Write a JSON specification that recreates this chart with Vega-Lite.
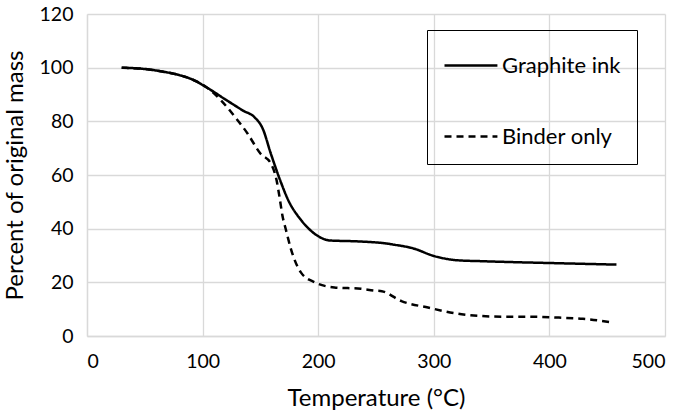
{
  "$schema": "https://vega.github.io/schema/vega-lite/v6.json",
  "autosize": {"type": "none"},
  "width": 578,
  "height": 322,
  "padding": {"left": 87, "top": 14, "right": 20, "bottom": 81},
  "background": "white",
  "config": {
    "font": "Lato",
    "view": {"stroke": null},
    "axis": {
      "gridColor": "#d9d9d9",
      "gridWidth": 1.3,
      "domainColor": "#d9d9d9",
      "domainWidth": 1.3,
      "ticks": false,
      "labelFont": "Lato",
      "labelFontSize": 19.5,
      "labelColor": "#000000",
      "titleFont": "Lato",
      "titleFontSize": 24,
      "titleFontWeight": "normal",
      "titleColor": "#000000"
    }
  },
  "data": {
    "values": [
      {"T": 30, "m": 100, "series": "Graphite ink"},
      {"T": 50, "m": 99.5, "series": "Graphite ink"},
      {"T": 66, "m": 98.5, "series": "Graphite ink"},
      {"T": 80, "m": 97.2, "series": "Graphite ink"},
      {"T": 90, "m": 95.8, "series": "Graphite ink"},
      {"T": 104, "m": 92.5, "series": "Graphite ink"},
      {"T": 121, "m": 87.8, "series": "Graphite ink"},
      {"T": 135, "m": 84, "series": "Graphite ink"},
      {"T": 145, "m": 81.5, "series": "Graphite ink"},
      {"T": 152, "m": 77.3, "series": "Graphite ink"},
      {"T": 159, "m": 68, "series": "Graphite ink"},
      {"T": 168, "m": 57, "series": "Graphite ink"},
      {"T": 174, "m": 50.7, "series": "Graphite ink"},
      {"T": 185, "m": 43.3, "series": "Graphite ink"},
      {"T": 193, "m": 39.5, "series": "Graphite ink"},
      {"T": 200, "m": 37.2, "series": "Graphite ink"},
      {"T": 210, "m": 35.6, "series": "Graphite ink"},
      {"T": 232, "m": 35.3, "series": "Graphite ink"},
      {"T": 249, "m": 34.9, "series": "Graphite ink"},
      {"T": 255, "m": 34.7, "series": "Graphite ink"},
      {"T": 266, "m": 34, "series": "Graphite ink"},
      {"T": 281, "m": 32.8, "series": "Graphite ink"},
      {"T": 301, "m": 29.7, "series": "Graphite ink"},
      {"T": 321, "m": 28.2, "series": "Graphite ink"},
      {"T": 340, "m": 27.9, "series": "Graphite ink"},
      {"T": 371, "m": 27.5, "series": "Graphite ink"},
      {"T": 400, "m": 27.2, "series": "Graphite ink"},
      {"T": 429, "m": 26.9, "series": "Graphite ink"},
      {"T": 458, "m": 26.6, "series": "Graphite ink"},
      {"T": 30, "m": 100, "series": "Binder only"},
      {"T": 50, "m": 99.5, "series": "Binder only"},
      {"T": 66, "m": 98.5, "series": "Binder only"},
      {"T": 80, "m": 97.2, "series": "Binder only"},
      {"T": 90, "m": 95.8, "series": "Binder only"},
      {"T": 104, "m": 92.5, "series": "Binder only"},
      {"T": 116, "m": 87.8, "series": "Binder only"},
      {"T": 127, "m": 82.2, "series": "Binder only"},
      {"T": 139, "m": 75.4, "series": "Binder only"},
      {"T": 150, "m": 68, "series": "Binder only"},
      {"T": 159, "m": 64.3, "series": "Binder only"},
      {"T": 164, "m": 58, "series": "Binder only"},
      {"T": 166.5, "m": 51.9, "series": "Binder only"},
      {"T": 169, "m": 45, "series": "Binder only"},
      {"T": 172, "m": 39.7, "series": "Binder only"},
      {"T": 176.5, "m": 32.3, "series": "Binder only"},
      {"T": 185, "m": 23.7, "series": "Binder only"},
      {"T": 197, "m": 20, "series": "Binder only"},
      {"T": 214, "m": 18.1, "series": "Binder only"},
      {"T": 237, "m": 17.6, "series": "Binder only"},
      {"T": 249, "m": 16.9, "series": "Binder only"},
      {"T": 255, "m": 16.7, "series": "Binder only"},
      {"T": 272, "m": 13, "series": "Binder only"},
      {"T": 295, "m": 10.6, "series": "Binder only"},
      {"T": 324, "m": 8.1, "series": "Binder only"},
      {"T": 359, "m": 7.2, "series": "Binder only"},
      {"T": 382, "m": 7.2, "series": "Binder only"},
      {"T": 411, "m": 6.8, "series": "Binder only"},
      {"T": 429, "m": 6.4, "series": "Binder only"},
      {"T": 455, "m": 5, "series": "Binder only"}
    ]
  },
  "mark": {"type": "line", "interpolate": "monotone", "strokeWidth": 2.5, "color": "#000000"},
  "encoding": {
    "x": {
      "field": "T", "type": "quantitative",
      "scale": {"domain": [0, 500], "nice": false},
      "axis": {"values": [0, 100, 200, 300, 400, 500], "title": "Temperature (°C)", "labelPadding": 16, "titlePadding": 16}
    },
    "y": {
      "field": "m", "type": "quantitative",
      "scale": {"domain": [0, 120], "nice": false},
      "axis": {"values": [0, 20, 40, 60, 80, 100, 120], "title": "Percent of original mass", "labelPadding": 14, "titlePadding": 12}
    },
    "strokeDash": {
      "field": "series", "type": "nominal",
      "scale": {"domain": ["Graphite ink", "Binder only"], "range": [[1, 0], [7, 5]]},
      "legend": {
        "title": null,
        "orient": "none",
        "legendX": 340,
        "legendY": 16,
        "padding": 16,
        "strokeColor": "#000000",
        "symbolType": "M-1,0H1.94",
        "symbolSize": 1296,
        "symbolStrokeWidth": 2.5,
        "symbolStrokeColor": "#000000",
        "symbolFillColor": "transparent",
        "labelFont": "Lato",
        "labelFontSize": 22,
        "labelColor": "#000000",
        "labelOffset": 20,
        "rowPadding": 40
      }
    }
  }
}
